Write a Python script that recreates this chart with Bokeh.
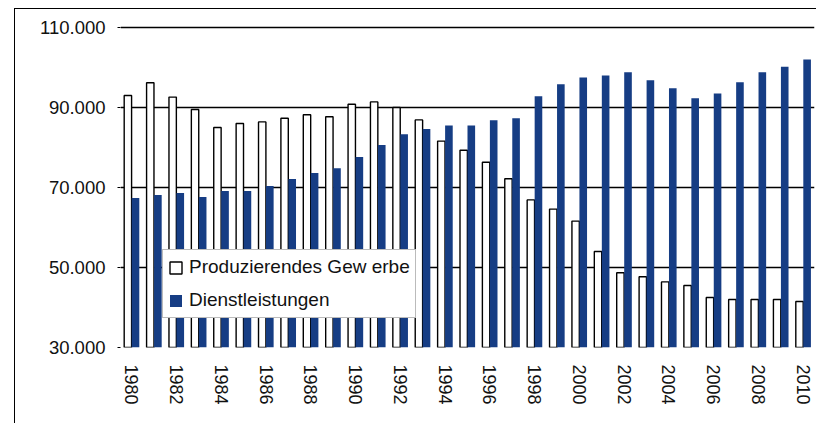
from bokeh.plotting import figure
from bokeh.models import (Range1d, FixedTicker, Legend, LegendItem,
                          ColumnDataSource, CustomJSTickFormatter)
from bokeh.embed import file_html
from bokeh.resources import INLINE

years = list(range(1980, 2011))
gewerbe = [93.0, 96.2, 92.6, 89.5, 85.0, 86.0, 86.4, 87.3, 88.2, 87.7,
           90.8, 91.4, 90.0, 86.9, 81.6, 79.3, 76.3, 72.2, 66.9, 64.6,
           61.6, 54.0, 48.7, 47.7, 46.4, 45.5, 42.5, 42.0, 42.0, 42.0, 41.5]
dienst = [67.4, 68.1, 68.6, 67.6, 69.1, 69.1, 70.4, 72.1, 73.6, 74.8,
          77.6, 80.6, 83.3, 84.6, 85.5, 85.5, 86.8, 87.3, 92.8, 95.8,
          97.5, 98.0, 98.8, 96.8, 94.8, 92.3, 93.5, 96.3, 98.8, 100.2, 102.0]
y_ticks = [30000, 50000, 70000, 90000, 110000]
x_ticks = list(range(1980, 2011, 2))
labels = ["Produzierendes Gew erbe", "Dienstleistungen"]

FONT = "Liberation Sans"
BLUE = "#163D84"

src = ColumnDataSource(dict(
    xw=[y - 0.17 for y in years],
    xb=[y + 0.17 for y in years],
    g=[v * 1000 for v in gewerbe],
    d=[v * 1000 for v in dienst],
))

p = figure(width=802, height=415, output_backend="svg", toolbar_location=None,
           x_range=Range1d(1979.5, 2010.5), y_range=Range1d(30000, 110500),
           min_border_left=105, min_border_right=3, min_border_top=16,
           min_border_bottom=77)
p.styles = {"margin-left": "14px", "margin-top": "8px",
            "border-left": "1.5px solid black", "border-top": "1.5px solid black"}
p.outline_line_color = None
p.background_fill_color = "white"
p.border_fill_color = "white"

rw = p.vbar(x="xw", top="g", bottom=30000, width=0.33, source=src,
            fill_color="white", line_color="black", line_width=1.4)
rb = p.vbar(x="xb", top="d", bottom=30000, width=0.34, source=src,
            fill_color=BLUE, line_color=None)

p.xgrid.visible = False
p.ygrid.ticker = FixedTicker(ticks=[50000, 70000, 90000, 110000])
p.ygrid.grid_line_color = "black"
p.ygrid.grid_line_width = 1.4

p.yaxis.ticker = FixedTicker(ticks=y_ticks)
p.yaxis.formatter = CustomJSTickFormatter(code="return (tick/1000).toFixed(0) + '.000';")
p.yaxis.axis_line_color = None
p.yaxis.major_tick_out = 3
p.yaxis.major_tick_in = 0
p.yaxis.major_tick_line_color = "black"
p.yaxis.minor_tick_line_color = None
p.yaxis.major_label_standoff = 12
p.yaxis.major_label_text_font = FONT
p.yaxis.major_label_text_font_size = "18.5px"
p.yaxis.major_label_text_color = "#111111"

p.xaxis.ticker = FixedTicker(ticks=x_ticks)
p.xaxis.axis_line_color = None
p.xaxis.major_tick_line_color = None
p.xaxis.minor_tick_line_color = None
p.xaxis.major_label_orientation = "vertical"
p.xaxis.major_label_standoff = 11
p.xaxis.major_label_text_font = FONT
p.xaxis.major_label_text_font_size = "18px"
p.xaxis.major_label_text_color = "#111111"

legend = Legend(items=[LegendItem(label=labels[0], renderers=[rw]),
                       LegendItem(label=labels[1], renderers=[rb])],
                location=(42, 29), padding=5, spacing=9, margin=0,
                glyph_width=15, glyph_height=15, label_height=24,
                label_standoff=6, label_text_font=FONT,
                label_text_font_size="19px", label_text_color="#111111",
                border_line_color="#777777", border_line_width=1.2,
                background_fill_color="white", background_fill_alpha=1.0)
p.add_layout(legend, "center")

open("out.html", "w").write(file_html(p, INLINE))
